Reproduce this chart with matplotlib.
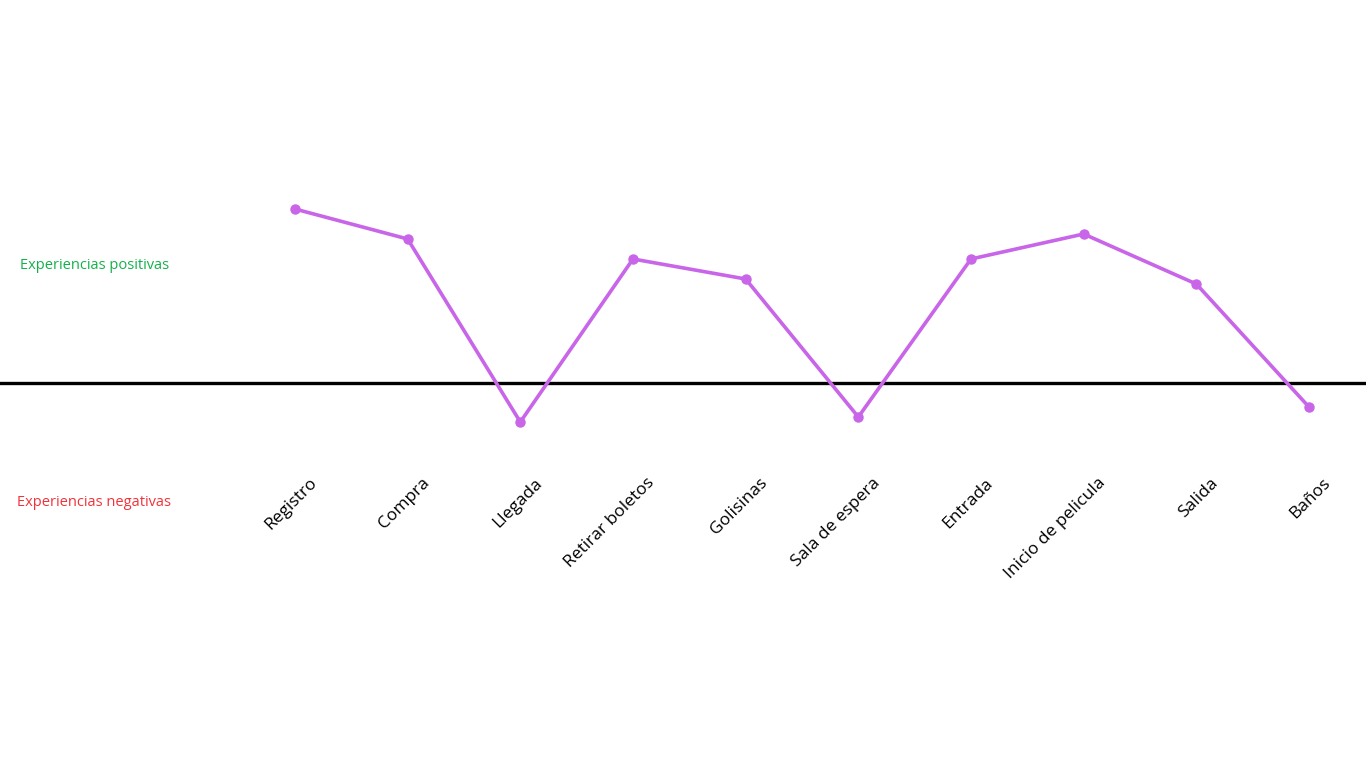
import matplotlib

matplotlib.use("Agg")
import matplotlib.pyplot as plt

# journey stages and experience scores (positive above baseline)
stages = ["Registro", "Compra", "Llegada", "Retirar boletos", "Golisinas",
          "Sala de espera", "Entrada", "Inicio de pelicula", "Salida", "Baños"]
scores = [174, 144, -39, 124, 104, -34, 124, 149, 99, -24]

LINE = "#c865e8"
plt.rcParams["font.family"] = ["Open Sans", "DejaVu Sans"]

fig = plt.figure(figsize=(13.66, 7.68), dpi=100)
ax = fig.add_axes([0, 0, 1, 1])
ax.set_xlim(-2.618, 9.506)
ax.set_ylim(-385, 383)
ax.axis("off")

ax.axhline(0, color="black", lw=2.4, zorder=1)
x = list(range(len(stages)))
ax.plot(x, scores, color=LINE, lw=2.6, marker="o", ms=6.5, zorder=2)

for i, s in enumerate(stages):
    ax.text(i + 0.12, -92, s, rotation=45, rotation_mode="anchor",
            ha="right", va="top", fontsize=12.5, color="black")

ax.text(-2.44, 118, "Experiencias positivas", color="#12b24a", fontsize=10.5,
        va="center", ha="left")
ax.text(-2.47, -119, "Experiencias negativas", color="#f2323a", fontsize=10.5,
        va="center", ha="left")

fig.savefig("out.png", dpi=100)
